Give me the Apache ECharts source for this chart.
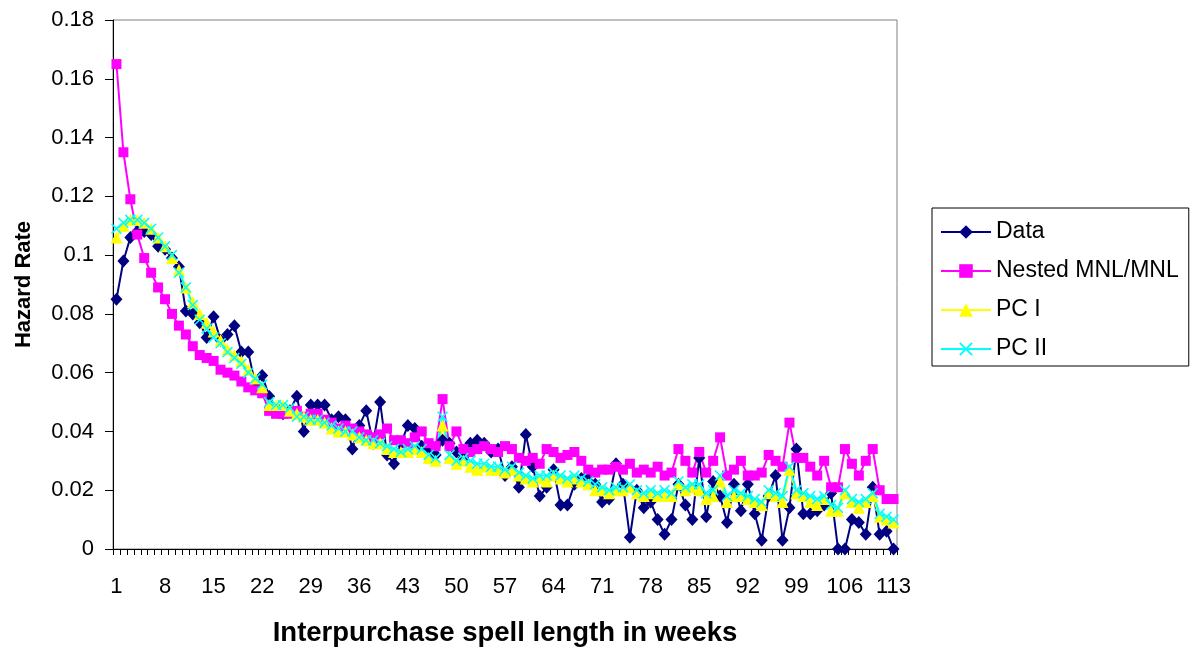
<!DOCTYPE html>
<html>
<head>
<meta charset="utf-8">
<script src="https://cdn.jsdelivr.net/npm/echarts@6/dist/echarts.min.js"></script>
<style>
html,body{margin:0;padding:0;background:#fff;}
#chart{width:1197px;height:652px;}
</style>
</head>
<body>
<div id="chart"></div>
<script>
// weeks 1..113
var weeks = [];
for (var w = 1; w <= 113; w++) weeks.push(String(w));

var dataSeries = [
 0.085,0.098,0.106,0.108,0.108,0.107,0.103,0.102,0.099,0.096,
 0.081,0.080,0.077,0.072,0.079,0.071,0.073,0.076,0.067,0.067,
 0.056,0.059,0.052,0.048,0.046,0.047,0.052,0.040,0.049,0.049,
 0.049,0.044,0.045,0.044,0.034,0.042,0.047,0.036,0.050,0.032,
 0.029,0.036,0.042,0.041,0.035,0.034,0.032,0.037,0.036,0.033,
 0.031,0.036,0.037,0.036,0.033,0.034,0.025,0.028,0.021,0.039,
 0.028,0.018,0.021,0.027,0.015,0.015,0.022,0.024,0.025,0.022,
 0.016,0.017,0.029,0.022,0.004,0.020,0.014,0.016,0.010,0.005,
 0.010,0.022,0.015,0.010,0.031,0.011,0.023,0.018,0.009,0.022,
 0.013,0.022,0.012,0.003,0.018,0.025,0.003,0.014,0.034,0.012,
 0.012,0.013,0.015,0.019,0.000,0.000,0.010,0.009,0.005,0.021,
 0.005,0.006,0.000
];

var nestedMNL = [
 0.165,0.135,0.119,0.107,0.099,0.094,0.089,0.085,0.080,0.076,
 0.073,0.069,0.066,0.065,0.064,0.061,0.060,0.059,0.057,0.055,
 0.054,0.053,0.047,0.046,0.046,0.046,0.047,0.045,0.046,0.046,
 0.044,0.043,0.041,0.042,0.041,0.040,0.039,0.038,0.039,0.041,
 0.037,0.037,0.036,0.038,0.040,0.036,0.035,0.051,0.035,0.040,
 0.034,0.033,0.034,0.035,0.034,0.033,0.035,0.034,0.031,0.030,
 0.031,0.029,0.034,0.033,0.031,0.032,0.033,0.030,0.027,0.026,
 0.027,0.027,0.028,0.027,0.029,0.026,0.027,0.026,0.028,0.025,
 0.026,0.034,0.030,0.026,0.033,0.026,0.030,0.038,0.025,0.027,
 0.030,0.025,0.025,0.026,0.032,0.030,0.028,0.043,0.031,0.031,
 0.028,0.025,0.030,0.021,0.021,0.034,0.029,0.025,0.030,0.034,
 0.020,0.017,0.017
];

var pcI = [
 0.106,0.110,0.112,0.112,0.111,0.109,0.106,0.103,0.099,0.095,
 0.089,0.084,0.080,0.077,0.074,0.071,0.068,0.066,0.064,0.061,
 0.058,0.055,0.049,0.049,0.049,0.047,0.046,0.045,0.044,0.044,
 0.043,0.041,0.040,0.040,0.039,0.038,0.037,0.036,0.036,0.034,
 0.033,0.033,0.033,0.034,0.033,0.031,0.030,0.042,0.031,0.029,
 0.030,0.028,0.027,0.028,0.027,0.027,0.026,0.027,0.025,0.024,
 0.023,0.024,0.023,0.025,0.024,0.023,0.024,0.023,0.022,0.020,
 0.020,0.019,0.020,0.020,0.021,0.019,0.018,0.019,0.018,0.018,
 0.018,0.022,0.020,0.021,0.020,0.017,0.018,0.023,0.016,0.018,
 0.018,0.017,0.016,0.015,0.019,0.018,0.016,0.027,0.019,0.018,
 0.016,0.015,0.017,0.013,0.013,0.019,0.016,0.014,0.016,0.018,
 0.011,0.010,0.009
];

var pcII = [
 0.109,0.111,0.112,0.112,0.111,0.109,0.106,0.103,0.100,0.094,
 0.089,0.083,0.078,0.075,0.072,0.070,0.067,0.065,0.063,0.060,
 0.058,0.056,0.050,0.049,0.049,0.048,0.045,0.045,0.044,0.044,
 0.043,0.042,0.041,0.040,0.040,0.038,0.037,0.037,0.036,0.035,
 0.034,0.033,0.034,0.035,0.034,0.032,0.031,0.045,0.032,0.030,
 0.031,0.030,0.029,0.029,0.028,0.028,0.027,0.028,0.026,0.025,
 0.024,0.025,0.025,0.026,0.025,0.024,0.025,0.024,0.023,0.022,
 0.021,0.020,0.021,0.021,0.022,0.020,0.019,0.020,0.019,0.020,
 0.019,0.023,0.021,0.022,0.022,0.019,0.020,0.025,0.018,0.020,
 0.019,0.018,0.017,0.016,0.020,0.019,0.018,0.028,0.020,0.019,
 0.018,0.017,0.018,0.015,0.014,0.020,0.017,0.016,0.017,0.019,
 0.012,0.011,0.010
];

var seriesNames = ['Data', 'Nested MNL/MNL', 'PC I', 'PC II'];
var yTicks = [0, 0.02, 0.04, 0.06, 0.08, 0.1, 0.12, 0.14, 0.16, 0.18];

var FONT = "'Liberation Sans', Arial, sans-serif";
var xSymbol = 'path://M0,1 L1,0 L5,4 L9,0 L10,1 L6,5 L10,9 L9,10 L5,6 L1,10 L0,9 L4,5 Z';

function mk(name, data, color, symbol, size) {
  return {
    name: name, type: 'line', data: data,
    symbol: symbol, symbolSize: size, showSymbol: true, showAllSymbol: true,
    itemStyle: { color: color, borderWidth: 0 },
    lineStyle: { color: color, width: 2 },
    emphasis: { disabled: true },
    animation: false
  };
}

var chart = echarts.init(document.getElementById('chart'), null, { renderer: 'canvas' });
chart.setOption({
  backgroundColor: '#ffffff',
  animation: false,
  textStyle: { fontFamily: FONT },
  grid: {
    left: 113, right: 300, top: 20, bottom: 99,
    show: true, borderColor: '#808080', borderWidth: 1, backgroundColor: 'transparent'
  },
  legend: {
    orient: 'vertical',
    left: 932, top: 208,
    data: seriesNames,
    borderColor: '#000', borderWidth: 1,
    padding: [12, 10, 5, 8],
    itemWidth: 50, itemHeight: 17, itemGap: 15,
    textStyle: { fontSize: 23, color: '#000', fontFamily: FONT, lineHeight: 24 },
    selectedMode: false
  },
  xAxis: {
    type: 'category',
    data: weeks,
    boundaryGap: true,
    name: 'Interpurchase spell length in weeks',
    nameLocation: 'middle',
    nameGap: 70,
    nameTextStyle: { fontSize: 27.5, fontWeight: 'bold', color: '#000', fontFamily: FONT },
    axisLine: { lineStyle: { color: '#000', width: 1 } },
    axisTick: { show: true, interval: 0, length: 6, lineStyle: { color: '#000' } },
    axisLabel: { interval: 6, fontSize: 22, color: '#000', margin: 27, fontFamily: FONT },
    splitLine: { show: false }
  },
  yAxis: {
    type: 'value',
    min: 0, max: 0.18, interval: 0.02,
    name: 'Hazard Rate',
    nameLocation: 'middle',
    nameGap: 78,
    nameRotate: 90,
    nameTextStyle: { fontSize: 22, fontWeight: 'bold', color: '#000', fontFamily: FONT },
    axisLine: { show: true, lineStyle: { color: '#000', width: 1 } },
    axisTick: { show: true, length: 8, lineStyle: { color: '#000' } },
    axisLabel: {
      fontSize: 22, color: '#000', margin: 19, fontFamily: FONT,
      formatter: function (v) {
        for (var i = 0; i < yTicks.length; i++) {
          if (Math.abs(yTicks[i] - v) < 1e-9) return String(yTicks[i]);
        }
        return '';
      }
    },
    splitLine: { show: false }
  },
  series: [
    mk(seriesNames[0], dataSeries, '#000080', 'diamond', [12, 13]),
    mk(seriesNames[1], nestedMNL, '#FF00FF', 'rect', 10),
    mk(seriesNames[2], pcI, '#FFFF00', 'triangle', 12),
    mk(seriesNames[3], pcII, '#00FFFF', xSymbol, 11)
  ]
});
</script>
</body>
</html>
